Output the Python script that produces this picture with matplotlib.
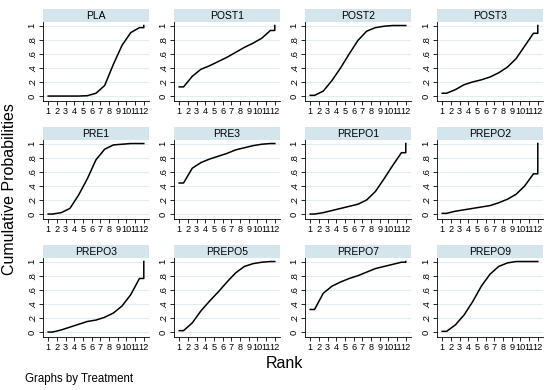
"""
Cumulative ranking probabilities (SUCRA-style) by treatment
"""
import matplotlib
matplotlib.use("Agg")
import matplotlib.pyplot as plt

plt.rcParams['font.family'] = ['Liberation Sans', 'DejaVu Sans']

# Data: cumulative probability of being ranked at or better than rank 1..11
# (rank 12 is always 1)
treatments = ["PLA", "POST1", "POST2", "POST3",
              "PRE1", "PRE3", "PREPO1", "PREPO2",
              "PREPO3", "PREPO5", "PREPO7", "PREPO9"]
ranks = list(range(1, 13))

pla    = [0.00, 0.00, 0.00, 0.00, 0.005, 0.04, 0.15, 0.45, 0.72, 0.90, 0.97, 1.0]
post1  = [0.13, 0.28, 0.38, 0.43, 0.49, 0.55, 0.62, 0.69, 0.75, 0.82, 0.93, 1.0]
post2  = [0.01, 0.07, 0.22, 0.40, 0.60, 0.79, 0.92, 0.97, 0.99, 1.00, 1.00, 1.0]
post3  = [0.04, 0.09, 0.16, 0.20, 0.23, 0.27, 0.33, 0.41, 0.53, 0.71, 0.89, 1.0]
pre1   = [0.00, 0.02, 0.08, 0.27, 0.50, 0.77, 0.92, 0.98, 0.99, 1.00, 1.00, 1.0]
pre3   = [0.44, 0.65, 0.73, 0.78, 0.82, 0.86, 0.91, 0.94, 0.97, 0.99, 1.00, 1.0]
prepo1 = [0.00, 0.02, 0.05, 0.08, 0.11, 0.14, 0.20, 0.32, 0.50, 0.69, 0.87, 1.0]
prepo2 = [0.01, 0.04, 0.06, 0.08, 0.10, 0.12, 0.16, 0.21, 0.28, 0.40, 0.57, 1.0]
prepo3 = [0.00, 0.03, 0.07, 0.11, 0.15, 0.17, 0.21, 0.27, 0.37, 0.53, 0.76, 1.0]
prepo5 = [0.02, 0.13, 0.30, 0.44, 0.57, 0.71, 0.84, 0.93, 0.97, 0.99, 1.00, 1.0]
prepo7 = [0.32, 0.55, 0.65, 0.71, 0.76, 0.80, 0.85, 0.90, 0.93, 0.96, 0.99, 1.0]
prepo9 = [0.01, 0.10, 0.24, 0.43, 0.65, 0.82, 0.93, 0.98, 1.00, 1.00, 1.00, 1.0]

series = [pla, post1, post2, post3, pre1, pre3,
          prepo1, prepo2, prepo3, prepo5, prepo7, prepo9]

yticks = [0, 0.2, 0.4, 0.6, 0.8, 1]
ytick_labels = ["0", ".2", ".4", ".6", ".8", "1"]

STRIP = "#d5e5ec"
GRID = "#e3edf1"

W, H = 550, 390
fig = plt.figure(figsize=(W / 100, H / 100), dpi=100)

col_left = [43, 174, 305, 437]
row_top = [9, 127, 245]
panel_w = 106
strip_h = 13
plot_h = 79


def px_box(x, y, w, h):
    return [x / W, 1 - (y + h) / H, w / W, h / H]


for i, (name, cum) in enumerate(zip(treatments, series)):
    r, c = divmod(i, 4)
    x0, y0 = col_left[c], row_top[r]

    sax = fig.add_axes(px_box(x0, y0, panel_w, strip_h))
    sax.set_facecolor(STRIP)
    sax.set_xticks([])
    sax.set_yticks([])
    for sp in sax.spines.values():
        sp.set_visible(False)
    sax.text(0.5, 0.45, name, ha='center', va='center', fontsize=7.5,
             transform=sax.transAxes)

    ax = fig.add_axes(px_box(x0, y0 + strip_h, panel_w, plot_h))
    # curve: flat half-step at each end, then jump to 1 at the last rank
    xs = [ranks[0]] + [k + 0.5 for k in ranks[:-1]] + [ranks[-1], ranks[-1]]
    ys = [cum[0]] + cum[:-1] + [cum[-2], cum[-1]]
    ax.plot(xs, ys, color='black', lw=1.1)

    ax.set_xlim(0.4, 12.6)
    ax.set_ylim(-0.07, 1.05)
    ax.set_xticks(ranks)
    ax.set_xticklabels([str(k) for k in ranks], fontsize=6.6)
    ax.set_yticks(yticks)
    ax.set_yticklabels(ytick_labels, fontsize=6.8, rotation=90, va='center')
    ax.tick_params(direction='out', length=3, width=0.6, pad=1.5)
    ax.grid(axis='y', color=GRID, lw=0.8)
    ax.set_axisbelow(True)
    for side in ['top', 'right']:
        ax.spines[side].set_visible(False)
    for side in ['left', 'bottom']:
        ax.spines[side].set_linewidth(0.6)

fig.text(10 / W, 1 - 189 / H, "Cumulative Probabilities", rotation=90,
         ha='center', va='center', fontsize=11.5)
fig.text(284 / W, 1 - 364 / H, "Rank", ha='center', va='center', fontsize=11.5)
fig.text(25 / W, 1 - 379 / H, "Graphs by Treatment", ha='left', va='center',
         fontsize=8.3)

fig.savefig("out.png", dpi=100)
